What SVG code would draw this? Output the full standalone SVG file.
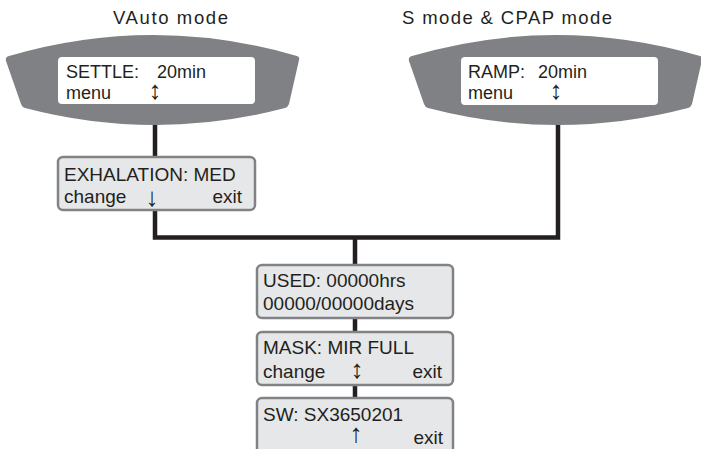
<svg xmlns="http://www.w3.org/2000/svg" width="701" height="449" viewBox="0 0 701 449">
<defs>
<style>
text{font-family:"Liberation Sans",Arial,"DejaVu Sans",sans-serif;fill:#231f20}
.title{font-size:18.5px}
.dev{font-size:18px}
.box{font-size:19px}
.arr{font-size:26px;text-anchor:middle}
.end{text-anchor:end}
.body{fill:#808184}
.screen{fill:#ffffff}
.panel{fill:#e6e7e8;stroke:#808285;stroke-width:2.5}
.conn{fill:none;stroke:#231f20;stroke-width:4.5}
</style>
<path id="device" class="body" d="M9,56 Q153,14 297,56 Q300,57 299,60 L289,104 Q288,107 285,108 Q155,142 25,108 Q22,107 21,104 L6,61 Q5,57 9,56 Z"/>
</defs>
<rect width="701" height="449" fill="#ffffff"/>
<g id="connectors">
<path class="conn" d="M155,120 V237.5 H558 V120"/>
<path class="conn" d="M355,237.5 V405"/>
</g>
<g id="title-vauto"><text class="title" x="113" y="24" textLength="115" lengthAdjust="spacing">VAuto mode</text></g>
<g id="title-smode"><text class="title" x="402" y="24" textLength="210" lengthAdjust="spacing">S mode &amp; CPAP mode</text></g>
<g id="device-settle">
<use href="#device"/>
<rect class="screen" x="58" y="57" width="197" height="47" rx="4"/>
<text class="dev" x="66" y="78">SETTLE:</text>
<text class="dev" x="157" y="78">20min</text>
<text class="dev" x="66" y="99">menu</text>
<text class="arr" x="155" y="99">↕&#xFE0E;</text>
</g>
<g id="device-ramp" transform="translate(403,0)">
<use href="#device"/>
<rect class="screen" x="58" y="57" width="197" height="48" rx="4"/>
<text class="dev" x="65" y="78">RAMP:</text>
<text class="dev" x="135" y="78">20min</text>
<text class="dev" x="65" y="99">menu</text>
<text class="arr" x="153" y="99">↕&#xFE0E;</text>
</g>
<g id="box-exhalation">
<rect class="panel" x="58" y="157" width="197" height="53" rx="5"/>
<text class="box" x="64" y="181">EXHALATION: MED</text>
<text class="box" x="64" y="203">change</text>
<text class="arr" x="152" y="206">↓</text>
<text class="box end" x="242" y="203">exit</text>
</g>
<g id="box-used">
<rect class="panel" x="257" y="265" width="196" height="53" rx="5"/>
<text class="box" x="263" y="287">USED: 00000hrs</text>
<text class="box" x="263" y="310">00000/00000days</text>
</g>
<g id="box-mask">
<rect class="panel" x="257" y="332" width="196" height="53" rx="5"/>
<text class="box" x="263" y="354">MASK: MIR FULL</text>
<text class="box" x="263" y="378">change</text>
<text class="arr" x="357" y="378">↕&#xFE0E;</text>
<text class="box end" x="442" y="378">exit</text>
</g>
<g id="box-sw">
<rect class="panel" x="257" y="398" width="196" height="60" rx="5"/>
<text class="box" x="263" y="421">SW: SX3650201</text>
<text class="arr" x="356" y="442">↑</text>
<text class="box end" x="443" y="444">exit</text>
</g>
</svg>
